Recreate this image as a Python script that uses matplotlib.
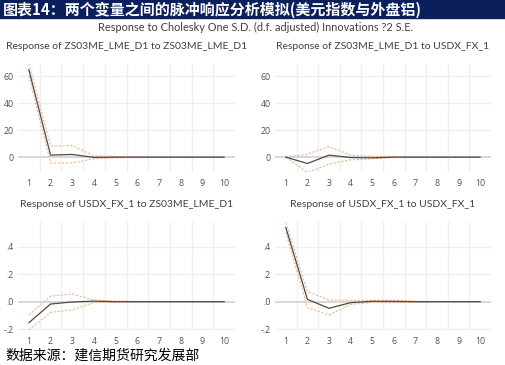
import numpy as np
import matplotlib
matplotlib.use("Agg")
import matplotlib.pyplot as plt
from matplotlib.patches import Rectangle

# periods
periods = [1, 2, 3, 4, 5, 6, 7, 8, 9, 10]

# ZS03ME_LME_D1 -> ZS03ME_LME_D1
zz_resp = [64.8, 1.5, 2.0, -0.2, 0.0, 0.0, 0.0, 0.0, 0.0, 0.0]
zz_up = [69.5, 8.4, 8.5, 1.0, 0.5, 0.3, 0.1, 0.0, 0.0, 0.0]
zz_lo = [60.1, -4.4, -4.3, -1.2, -0.5, -0.3, -0.1, 0.0, 0.0, 0.0]

# ZS03ME_LME_D1 -> USDX_FX_1
zu_resp = [0.0, -4.7, 1.5, -0.3, -0.5, 0.0, 0.0, 0.0, 0.0, 0.0]
zu_up = [0.0, 2.2, 7.9, 1.5, 0.6, 0.5, 0.1, 0.0, 0.0, 0.0]
zu_lo = [0.0, -11.4, -5.2, -2.0, -1.2, -0.4, -0.1, 0.0, 0.0, 0.0]

# USDX_FX_1 -> ZS03ME_LME_D1
uz_resp = [-0.153, -0.017, -0.002, 0.004, 0.000, 0.000, 0.000, 0.000, 0.000, 0.000]
uz_up = [-0.097, 0.041, 0.056, 0.012, 0.004, 0.002, 0.001, 0.000, 0.000, 0.000]
uz_lo = [-0.206, -0.077, -0.060, -0.005, -0.003, -0.002, -0.001, 0.000, 0.000, 0.000]

# USDX_FX_1 -> USDX_FX_1
uu_resp = [0.540, 0.017, -0.048, -0.007, 0.003, 0.002, 0.000, 0.000, 0.000, 0.000]
uu_up = [0.575, 0.073, 0.012, 0.010, 0.010, 0.012, 0.003, 0.001, 0.000, 0.000]
uu_lo = [0.505, -0.044, -0.097, -0.020, -0.005, -0.008, -0.003, -0.001, 0.000, 0.000]

titles = ["Response of ZS03ME_LME_D1 to ZS03ME_LME_D1",
          "Response of ZS03ME_LME_D1 to USDX_FX_1",
          "Response of USDX_FX_1 to ZS03ME_LME_D1",
          "Response of USDX_FX_1 to USDX_FX_1"]
top_ticks = [0, 20, 40, 60]
top_labels = ["0", "20", "40", "60"]
bot_ticks = [-0.2, 0.0, 0.2, 0.4]
bot_labels = ["-.2", ".0", ".2", ".4"]

plt.rcParams['font.family'] = ['Lato', 'DejaVu Sans']

fig = plt.figure(figsize=(5.06, 3.65), dpi=100)

# header bar
fig.patches.append(Rectangle((0, 1 - 18 / 365), 1, 18 / 365, transform=fig.transFigure,
                             color="#0b1f5c", zorder=0))
fig.text(0.006, 1 - 9.5 / 365, "图表14：两个变量之间的脉冲响应分析模拟(美元指数与外盘铝)",
         family=['Noto Sans CJK SC', 'DejaVu Sans'], weight='bold', color='white',
         fontsize=10.8, va='center', ha='left')
fig.text(0.505, 1 - 27 / 365, "Response to Cholesky One S.D. (d.f. adjusted) Innovations ?2 S.E.",
         fontsize=7.9, color='#404040', ha='center', va='center')
fig.text(0.01, 1 - 356 / 365, "数据来源：建信期货研究发展部",
         family=['Noto Sans CJK SC', 'DejaVu Sans'], fontsize=10, color='black',
         ha='left', va='center', style='italic')

panels = [
    ([18 / 506, 1 - 172 / 365, 217 / 506, 108 / 365], zz_resp, zz_up, zz_lo, (-11, 69), top_ticks, top_labels),
    ([275 / 506, 1 - 172 / 365, 216 / 506, 108 / 365], zu_resp, zu_up, zu_lo, (-11, 69), top_ticks, top_labels),
    ([18 / 506, 1 - 330 / 365, 217 / 506, 108 / 365], uz_resp, uz_up, uz_lo, (-0.206, 0.58), bot_ticks, bot_labels),
    ([275 / 506, 1 - 330 / 365, 216 / 506, 108 / 365], uu_resp, uu_up, uu_lo, (-0.206, 0.58), bot_ticks, bot_labels),
]

for (rect, resp, up, lo, ylim, yt, yl), title in zip(panels, titles):
    ax = fig.add_axes(rect)
    ax.set_xlim(0.5, 10.5)
    ax.set_ylim(*ylim)
    for s in ax.spines.values():
        s.set_visible(False)
    for xv in np.arange(1.5, 10, 1.0):
        ax.axvline(xv, color='#efefef', lw=1.0, zorder=0)
    for yv in yt:
        if yv == 0:
            ax.axhline(0, color='#d4d4d4', lw=1.3, zorder=1)
        else:
            ax.axhline(yv, color='#efefef', lw=1.0, zorder=0)
    ax.plot(periods, up, color='#f5b48a', lw=0.8, ls=(0, (2, 1.5)), zorder=2)
    ax.plot(periods, lo, color='#f5b48a', lw=0.8, ls=(0, (2, 1.5)), zorder=2)
    ax.plot(periods, resp, color='#4a4a4a', lw=0.9, zorder=3)
    ax.set_xticks(periods)
    ax.set_yticks(yt)
    ax.set_yticklabels(yl)
    ax.tick_params(length=0, labelsize=6.3, colors='#505050', pad=3)
    ax.tick_params(axis='x', pad=5)
    for lab in ax.get_xticklabels() + ax.get_yticklabels():
        lab.set_family(['Open Sans', 'DejaVu Sans'])
    ax.set_title(title, fontsize=7.5, color='#404040', pad=11)

fig.savefig("out.png", dpi=100)
